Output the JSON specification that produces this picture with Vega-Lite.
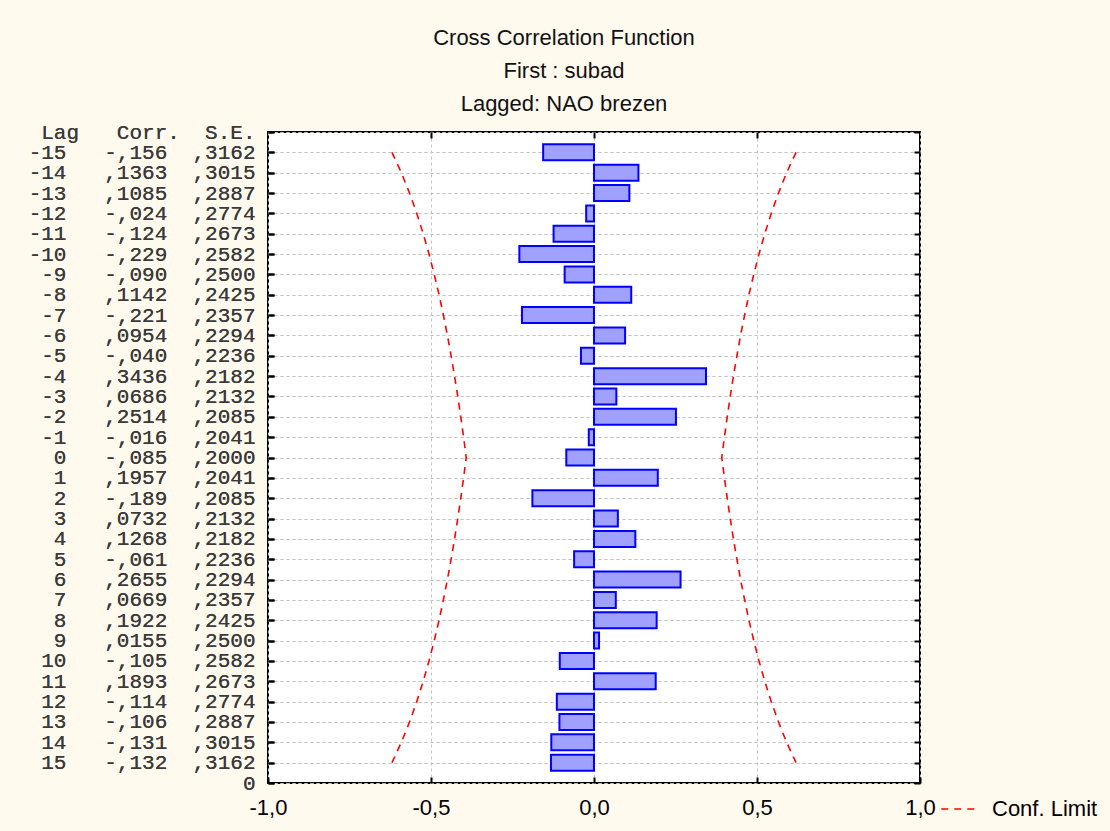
{
  "$schema": "https://vega.github.io/schema/vega-lite/v6.json",
  "width": 652,
  "height": 651,
  "autosize": {"type": "none"},
  "padding": {"left": 268, "top": 132, "right": 190, "bottom": 48},
  "background": "#FFF9EE",
  "title": {
    "text": ["Cross Correlation Function", "First : subad", "Lagged: NAO brezen"],
    "anchor": "middle",
    "frame": "group",
    "font": "Liberation Sans",
    "fontSize": 22,
    "fontWeight": "normal",
    "lineHeight": 33,
    "color": "#111111",
    "dx": -30,
    "offset": 5
  },
  "config": {
    "locale": {
      "number": {"decimal": ",", "thousands": ".", "grouping": [3], "currency": ["", ""], "minus": "-"}
    },
    "view": {"fill": "white", "stroke": "black", "strokeWidth": 2}
  },
  "data": {
    "values": [
      {"row": "\u00a0Lag\u00a0\u00a0\u00a0Corr.\u00a0\u00a0S.E."},
      {"row": "-15\u00a0\u00a0\u00a0-,156\u00a0\u00a0,3162", "lag": -15, "corr": -0.156, "se": 0.3162, "lo": -0.6198, "hi": 0.6198},
      {"row": "-14\u00a0\u00a0\u00a0,1363\u00a0\u00a0,3015", "lag": -14, "corr": 0.1363, "se": 0.3015, "lo": -0.5909, "hi": 0.5909},
      {"row": "-13\u00a0\u00a0\u00a0,1085\u00a0\u00a0,2887", "lag": -13, "corr": 0.1085, "se": 0.2887, "lo": -0.5659, "hi": 0.5659},
      {"row": "-12\u00a0\u00a0\u00a0-,024\u00a0\u00a0,2774", "lag": -12, "corr": -0.024, "se": 0.2774, "lo": -0.5437, "hi": 0.5437},
      {"row": "-11\u00a0\u00a0\u00a0-,124\u00a0\u00a0,2673", "lag": -11, "corr": -0.124, "se": 0.2673, "lo": -0.5239, "hi": 0.5239},
      {"row": "-10\u00a0\u00a0\u00a0-,229\u00a0\u00a0,2582", "lag": -10, "corr": -0.229, "se": 0.2582, "lo": -0.5061, "hi": 0.5061},
      {"row": "\u00a0-9\u00a0\u00a0\u00a0-,090\u00a0\u00a0,2500", "lag": -9, "corr": -0.090, "se": 0.2500, "lo": -0.4900, "hi": 0.4900},
      {"row": "\u00a0-8\u00a0\u00a0\u00a0,1142\u00a0\u00a0,2425", "lag": -8, "corr": 0.1142, "se": 0.2425, "lo": -0.4753, "hi": 0.4753},
      {"row": "\u00a0-7\u00a0\u00a0\u00a0-,221\u00a0\u00a0,2357", "lag": -7, "corr": -0.221, "se": 0.2357, "lo": -0.4620, "hi": 0.4620},
      {"row": "\u00a0-6\u00a0\u00a0\u00a0,0954\u00a0\u00a0,2294", "lag": -6, "corr": 0.0954, "se": 0.2294, "lo": -0.4496, "hi": 0.4496},
      {"row": "\u00a0-5\u00a0\u00a0\u00a0-,040\u00a0\u00a0,2236", "lag": -5, "corr": -0.040, "se": 0.2236, "lo": -0.4383, "hi": 0.4383},
      {"row": "\u00a0-4\u00a0\u00a0\u00a0,3436\u00a0\u00a0,2182", "lag": -4, "corr": 0.3436, "se": 0.2182, "lo": -0.4277, "hi": 0.4277},
      {"row": "\u00a0-3\u00a0\u00a0\u00a0,0686\u00a0\u00a0,2132", "lag": -3, "corr": 0.0686, "se": 0.2132, "lo": -0.4179, "hi": 0.4179},
      {"row": "\u00a0-2\u00a0\u00a0\u00a0,2514\u00a0\u00a0,2085", "lag": -2, "corr": 0.2514, "se": 0.2085, "lo": -0.4087, "hi": 0.4087},
      {"row": "\u00a0-1\u00a0\u00a0\u00a0-,016\u00a0\u00a0,2041", "lag": -1, "corr": -0.016, "se": 0.2041, "lo": -0.4000, "hi": 0.4000},
      {"row": "\u00a0\u00a00\u00a0\u00a0\u00a0-,085\u00a0\u00a0,2000", "lag": 0, "corr": -0.085, "se": 0.2000, "lo": -0.3920, "hi": 0.3920},
      {"row": "\u00a0\u00a01\u00a0\u00a0\u00a0,1957\u00a0\u00a0,2041", "lag": 1, "corr": 0.1957, "se": 0.2041, "lo": -0.4000, "hi": 0.4000},
      {"row": "\u00a0\u00a02\u00a0\u00a0\u00a0-,189\u00a0\u00a0,2085", "lag": 2, "corr": -0.189, "se": 0.2085, "lo": -0.4087, "hi": 0.4087},
      {"row": "\u00a0\u00a03\u00a0\u00a0\u00a0,0732\u00a0\u00a0,2132", "lag": 3, "corr": 0.0732, "se": 0.2132, "lo": -0.4179, "hi": 0.4179},
      {"row": "\u00a0\u00a04\u00a0\u00a0\u00a0,1268\u00a0\u00a0,2182", "lag": 4, "corr": 0.1268, "se": 0.2182, "lo": -0.4277, "hi": 0.4277},
      {"row": "\u00a0\u00a05\u00a0\u00a0\u00a0-,061\u00a0\u00a0,2236", "lag": 5, "corr": -0.061, "se": 0.2236, "lo": -0.4383, "hi": 0.4383},
      {"row": "\u00a0\u00a06\u00a0\u00a0\u00a0,2655\u00a0\u00a0,2294", "lag": 6, "corr": 0.2655, "se": 0.2294, "lo": -0.4496, "hi": 0.4496},
      {"row": "\u00a0\u00a07\u00a0\u00a0\u00a0,0669\u00a0\u00a0,2357", "lag": 7, "corr": 0.0669, "se": 0.2357, "lo": -0.4620, "hi": 0.4620},
      {"row": "\u00a0\u00a08\u00a0\u00a0\u00a0,1922\u00a0\u00a0,2425", "lag": 8, "corr": 0.1922, "se": 0.2425, "lo": -0.4753, "hi": 0.4753},
      {"row": "\u00a0\u00a09\u00a0\u00a0\u00a0,0155\u00a0\u00a0,2500", "lag": 9, "corr": 0.0155, "se": 0.2500, "lo": -0.4900, "hi": 0.4900},
      {"row": "\u00a010\u00a0\u00a0\u00a0-,105\u00a0\u00a0,2582", "lag": 10, "corr": -0.105, "se": 0.2582, "lo": -0.5061, "hi": 0.5061},
      {"row": "\u00a011\u00a0\u00a0\u00a0,1893\u00a0\u00a0,2673", "lag": 11, "corr": 0.1893, "se": 0.2673, "lo": -0.5239, "hi": 0.5239},
      {"row": "\u00a012\u00a0\u00a0\u00a0-,114\u00a0\u00a0,2774", "lag": 12, "corr": -0.114, "se": 0.2774, "lo": -0.5437, "hi": 0.5437},
      {"row": "\u00a013\u00a0\u00a0\u00a0-,106\u00a0\u00a0,2887", "lag": 13, "corr": -0.106, "se": 0.2887, "lo": -0.5659, "hi": 0.5659},
      {"row": "\u00a014\u00a0\u00a0\u00a0-,131\u00a0\u00a0,3015", "lag": 14, "corr": -0.131, "se": 0.3015, "lo": -0.5909, "hi": 0.5909},
      {"row": "\u00a015\u00a0\u00a0\u00a0-,132\u00a0\u00a0,3162", "lag": 15, "corr": -0.132, "se": 0.3162, "lo": -0.6198, "hi": 0.6198},
      {"row": "0"}
    ]
  },
  "encoding": {
    "y": {
      "field": "row",
      "type": "nominal",
      "sort": null,
      "scale": {"type": "point", "padding": 0},
      "axis": {
        "title": null,
        "orient": "left",
        "domain": false,
        "labelFont": "Liberation Mono",
        "labelFontSize": 21,
        "labelFontWeight": "normal",
        "labelColor": "#3a3a3a",
        "labelLimit": 0,
        "labelPadding": 19,
        "labelBaseline": "middle",
        "labelOverlap": false,
        "tickSize": -6,
        "tickColor": "black",
        "tickWidth": 2,
        "grid": true,
        "gridColor": "#c4c4c4",
        "gridDash": [3, 3],
        "gridWidth": 1
      }
    }
  },
  "layer": [
    {
      "mark": {"type": "point", "opacity": 0},
      "encoding": {
        "y": {
          "field": "row",
          "type": "nominal",
          "sort": null,
          "scale": {"type": "point", "padding": 0},
          "axis": {
            "title": null,
            "orient": "right",
            "domain": false,
            "labels": false,
            "grid": false,
            "tickSize": -6,
            "tickColor": "black",
            "tickWidth": 2
          }
        }
      }
    },
    {
      "mark": {"type": "bar", "size": 16, "fill": "#a0a0ff", "stroke": "#0000ff", "strokeWidth": 2},
      "encoding": {
        "x": {
          "field": "corr",
          "type": "quantitative",
          "scale": {"domain": [-1, 1], "nice": false, "zero": false},
          "axis": {
            "title": null,
            "orient": "bottom",
            "values": [-1, -0.5, 0, 0.5, 1],
            "format": ".1f",
            "domain": false,
            "labelFont": "Liberation Sans",
            "labelFontSize": 22,
            "labelColor": "black",
            "labelPadding": 20,
            "labelFlush": false,
            "tickSize": -6,
            "tickColor": "black",
            "tickWidth": 2,
            "grid": true,
            "gridColor": "#c4c4c4",
            "gridDash": [3, 3],
            "gridWidth": 1
          }
        }
      }
    },
    {
      "transform": [{"fold": ["lo", "hi"], "as": ["side", "limit"]}],
      "mark": {"type": "line", "stroke": "red", "strokeWidth": 1.6},
      "encoding": {
        "x": {
          "field": "limit",
          "type": "quantitative",
          "axis": {
            "title": null,
            "orient": "top",
            "values": [-0.5, 0, 0.5],
            "labels": false,
            "domain": false,
            "grid": false,
            "tickSize": -6,
            "tickColor": "black",
            "tickWidth": 2
          }
        },
        "detail": {"field": "side"},
        "order": {"field": "lag"},
        "strokeDash": {
          "datum": "Conf. Limit",
          "scale": {"range": [[7, 6]]},
          "legend": {
            "title": null,
            "orient": "none",
            "legendX": 672,
            "legendY": 657,
            "symbolType": "stroke",
            "symbolStrokeColor": "red",
            "symbolStrokeWidth": 1.6,
            "symbolSize": 1400,
            "labelFont": "Liberation Sans",
            "labelFontSize": 22,
            "labelColor": "black",
            "labelOffset": 12
          }
        }
      }
    }
  ]
}
